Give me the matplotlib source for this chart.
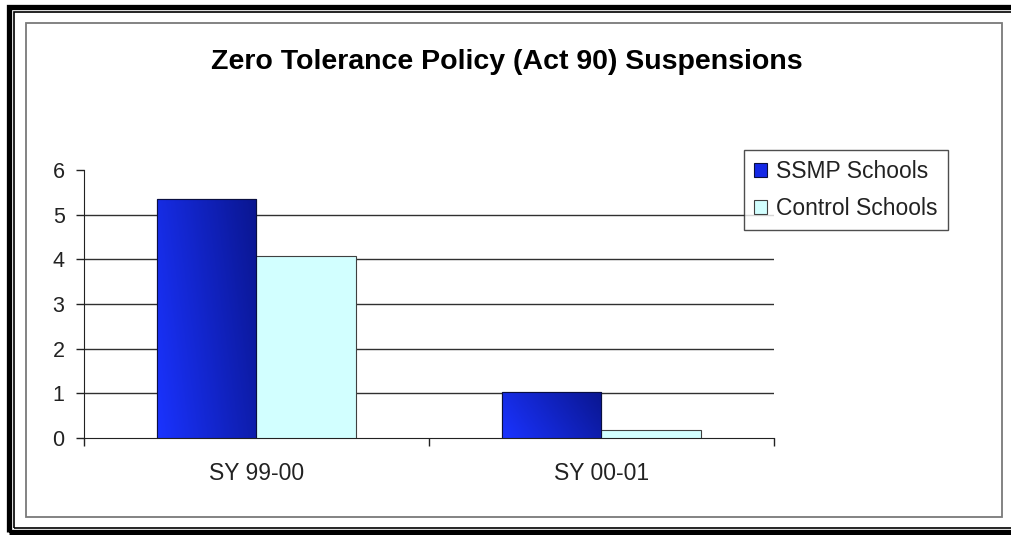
import numpy as np
import matplotlib

matplotlib.use("Agg")
import matplotlib.pyplot as plt
from matplotlib.patches import Rectangle
from matplotlib.colors import LinearSegmentedColormap

plt.rcParams["font.family"] = ["Liberation Sans", "DejaVu Sans"]

# Suspension counts per school year
years = ["SY 99-00", "SY 00-01"]
ssmp = [5.35, 1.03]
control = [4.08, 0.18]
series_names = ["SSMP Schools", "Control Schools"]
y_ticks = [0, 1, 2, 3, 4, 5, 6]

W, H = 1012, 535
fig = plt.figure(figsize=(W / 100, H / 100), dpi=100)


def fx(px):
    return px / W


def fy(py):
    return 1 - py / H


# double black frame plus grey chart border
fig.add_artist(Rectangle((fx(8.5), fy(532)), fx(1020 - 8.5), fy(6.5) - fy(532),
                         transform=fig.transFigure, fill=False, edgecolor="black", linewidth=3.8))
fig.add_artist(Rectangle((fx(14), fy(527.5)), fx(1020 - 14), fy(11.5) - fy(527.5),
                         transform=fig.transFigure, fill=False, edgecolor="black", linewidth=1.2))
fig.add_artist(Rectangle((fx(26), fy(517)), fx(1002 - 26), fy(23) - fy(517),
                         transform=fig.transFigure, fill=False, edgecolor="#7a7a7a", linewidth=1.3))

ax = fig.add_axes([fx(84), fy(438), fx(774 - 84), fy(170) - fy(438)])

x = np.arange(len(years)) + 0.5
bw = 0.287
blue_bars = ax.bar(x - bw / 2, ssmp, bw, color="#1428e6", edgecolor="#0a0f40", linewidth=0.8,
                   label=series_names[0], zorder=3)
cyan_bars = ax.bar(x + bw / 2, control, bw, color="#d2ffff", edgecolor="#404040", linewidth=0.8,
                   label=series_names[1], zorder=3)

# diagonal shading on the SSMP bars
cmap = LinearSegmentedColormap.from_list("ssmp", ["#1a33ff", "#0a1690"])
gx, gy = np.meshgrid(np.linspace(0, 1, 64), np.linspace(0, 1, 64))
grad = 0.75 * gx + 0.25 * (1 - gy)
for bar in blue_bars:
    x0, y0 = bar.get_x(), bar.get_y()
    im = ax.imshow(grad, cmap=cmap, aspect="auto", origin="upper",
                   extent=[x0, x0 + bar.get_width(), y0, y0 + bar.get_height()], zorder=3.5)
    im.set_clip_path(bar)
    edge = Rectangle((x0, y0), bar.get_width(), bar.get_height(), fill=False,
                     edgecolor="#0a0f40", linewidth=0.8, zorder=4)
    ax.add_patch(edge)

ax.set_xlim(0, 2)
ax.set_ylim(0, 6)
ax.set_yticks(y_ticks)
ax.set_yticklabels([str(t) for t in y_ticks])
for yv in y_ticks[1:-1]:
    ax.axhline(yv, color="#303030", linewidth=1.0, zorder=1)

ax.set_xticks([0, 1, 2], minor=True)
ax.set_xticks(x)
ax.set_xticklabels(years)
ax.tick_params(axis="x", which="major", length=0, pad=17, labelsize=16.5, labelcolor="#222222")
ax.tick_params(axis="x", which="minor", length=6, width=1.0, direction="out", color="#222222")
ax.tick_params(axis="y", length=6, width=1.0, direction="out", pad=8, labelsize=15.5,
               labelcolor="#222222", color="#222222")

for side in ("top", "right"):
    ax.spines[side].set_visible(False)
ax.spines["left"].set_color("#222222")
ax.spines["bottom"].set_color("#222222")
ax.patch.set_alpha(0)

fig.text(fx(507), fy(62), "Zero Tolerance Policy (Act 90) Suspensions", ha="center", va="center",
         fontsize=20.5, fontweight="bold", color="black")

leg = fig.legend(handles=[blue_bars, cyan_bars], labels=series_names, loc="upper left",
                 bbox_to_anchor=(fx(744), fy(150)), bbox_transform=fig.transFigure,
                 fancybox=False, frameon=True, edgecolor="#222222", fontsize=16.5,
                 handlelength=0.55, handleheight=0.55, handletextpad=0.4,
                 borderpad=0.45, labelspacing=0.6, borderaxespad=0)
leg.get_frame().set_linewidth(1.0)
for txt in leg.get_texts():
    txt.set_color("#222222")

fig.savefig("out.png", dpi=100, facecolor="white")
